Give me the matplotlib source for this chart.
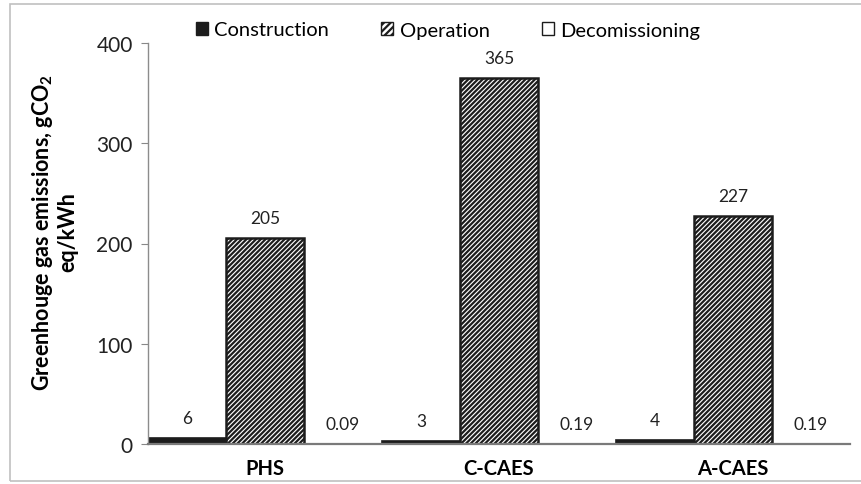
import matplotlib
matplotlib.use("Agg")
import matplotlib.pyplot as plt
from matplotlib.patches import Rectangle, Patch
import numpy as np

categories = ["PHS", "C-CAES", "A-CAES"]
construction = [6, 3, 4]
operation = [205, 365, 227]
decommissioning = [0.09, 0.19, 0.19]
series_names = ["Construction", "Operation", "Decomissioning"]
yticks = [0, 100, 200, 300, 400]

plt.rcParams["font.family"] = ["Lato", "DejaVu Sans"]
plt.rcParams["mathtext.fontset"] = "custom"
plt.rcParams["mathtext.rm"] = "Lato"
plt.rcParams["mathtext.bf"] = "Lato:bold"
plt.rcParams["hatch.linewidth"] = 1.6

W, H = 861, 485
fig = plt.figure(figsize=(W / 100, H / 100), dpi=100)
ax = fig.add_axes([148 / W, 1 - 445 / H, (850 - 148) / W, (445 - 44) / H])

# outer chart frame
fig.patches.append(Rectangle((10 / W, 1 - 482 / H), 1.0, (482 - 5) / H,
                             transform=fig.transFigure, fill=False,
                             edgecolor="#c0c0c0", linewidth=1.2))

HATCH = "///////"
x = np.arange(len(categories))
bw = 1 / 3
b1 = ax.bar(x - bw, construction, bw, color="#1c1c1c", edgecolor="#1c1c1c", linewidth=1.2)
b2 = ax.bar(x, operation, bw, color="white", edgecolor="#1c1c1c", hatch=HATCH, linewidth=1.8)
b3 = ax.bar(x + bw, decommissioning, bw, color="white", edgecolor="#1c1c1c", linewidth=1.0)

for bars, vals in ((b1, construction), (b2, operation), (b3, decommissioning)):
    for rect, v in zip(bars, vals):
        ax.annotate(f"{v:g}", (rect.get_x() + rect.get_width() / 2, rect.get_height()),
                    xytext=(0, 14.5), textcoords="offset points",
                    ha="center", va="center", fontsize=12.5, color="#222222")

ax.set_xlim(-0.5, 2.5)
ax.set_ylim(0, 400)
ax.set_yticks(yticks)
ax.set_xticks(x)
ax.set_xticklabels(categories, fontsize=14.5, fontweight="bold")
ax.tick_params(axis="x", length=0, pad=10)
ax.tick_params(axis="y", labelsize=15, length=5, color="#888888", pad=6, direction="out")
for t in ax.get_yticklabels():
    t.set_color("#222222")

for s in ("top", "right"):
    ax.spines[s].set_visible(False)
ax.spines["left"].set_color("#8c8c8c")
ax.spines["left"].set_linewidth(1.0)
ax.spines["bottom"].set_color("#7a7a7a")
ax.spines["bottom"].set_linewidth(1.6)

fig.text(54 / W, 1 - 232 / H, "Greenhouge gas emissions, gCO$_\\mathbf{2}$\neq/kWh",
         rotation=90, ha="center", va="center", fontsize=15.5, fontweight="bold",
         multialignment="center", linespacing=1.15)

handles = [Patch(facecolor="#1c1c1c", edgecolor="#1c1c1c"),
           Patch(facecolor="white", edgecolor="#1c1c1c", hatch="/////"),
           Patch(facecolor="white", edgecolor="#1c1c1c")]
fig.legend(handles, series_names, loc="center", bbox_to_anchor=(448 / W, 1 - 31 / H),
           ncol=3, frameon=False, fontsize=14.5, handlelength=0.6, handleheight=0.6,
           handletextpad=0.3, columnspacing=2.6)

fig.savefig("out.png", dpi=100)
